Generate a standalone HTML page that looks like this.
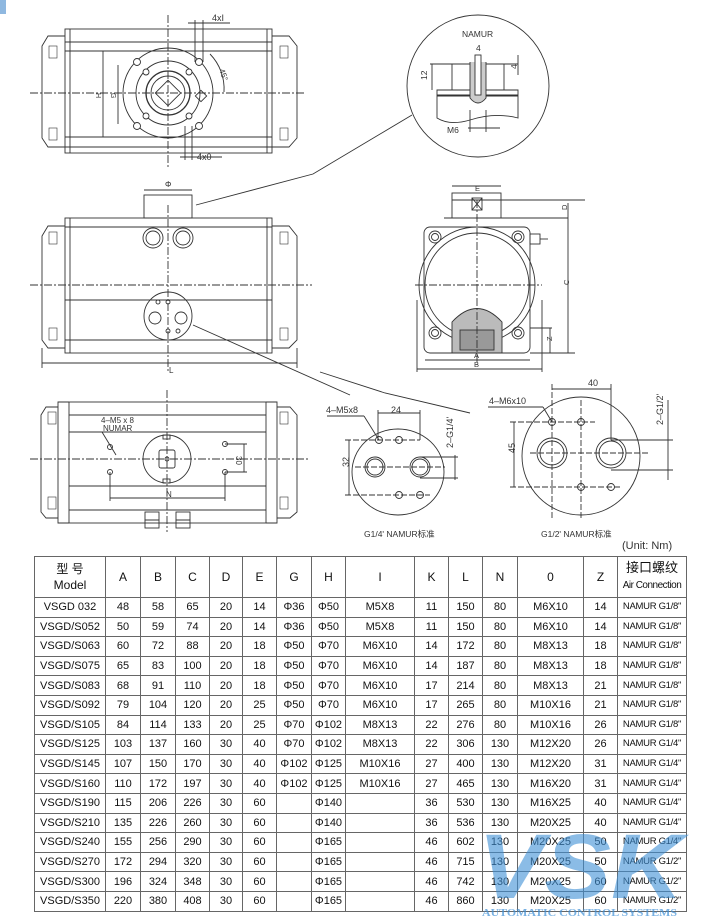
<!DOCTYPE html>
<html><head><meta charset="utf-8">
<style>
html,body{margin:0;padding:0;background:#fff;}
body{width:712px;height:920px;position:relative;overflow:hidden;font-family:"Liberation Sans","Noto Sans CJK SC",sans-serif;}
svg{position:absolute;left:0;top:0;}
table{position:absolute;left:34px;top:556px;width:652px;border-collapse:collapse;table-layout:fixed;font-size:11px;color:#111;}
td{border:1px solid #666;text-align:center;padding:0;height:18.6px;line-height:12px;white-space:nowrap;overflow:hidden;}
tr.h td{height:40px;font-size:12px;line-height:16px;}
td.n{font-size:9.5px;letter-spacing:-0.3px;}
</style></head><body>
<svg width="712" height="920" viewBox="0 0 712 920" fill="none" stroke="#333" stroke-width="0.9" font-family="Liberation Sans, Noto Sans CJK SC, sans-serif">
<rect x="0" y="0" width="6" height="14" fill="#8fb8e0" stroke="none"/>
<!-- TOP VIEW -->
<g>
<rect x="65" y="29" width="207" height="124"/>
<line x1="65" y1="42" x2="272" y2="42"/><line x1="65" y1="51" x2="272" y2="51"/>
<line x1="65" y1="137" x2="272" y2="137"/><line x1="65" y1="147" x2="272" y2="147"/>
<line x1="70" y1="29" x2="70" y2="153"/><line x1="267" y1="29" x2="267" y2="153"/>
<path d="M65 36 L48 36 L42 46 L42 138 L48 147 L65 147"/>
<path d="M272 36 L289 36 L297 46 L297 138 L289 147 L272 147"/>
<rect x="49" y="46" width="8" height="12" stroke-width="0.6"/><rect x="49" y="128" width="8" height="12" stroke-width="0.6"/>
<rect x="280" y="46" width="8" height="12" stroke-width="0.6"/><rect x="280" y="128" width="8" height="12" stroke-width="0.6"/>
<circle cx="168" cy="93" r="45"/><circle cx="168" cy="93" r="32"/><circle cx="168" cy="93" r="22" stroke-width="1.3"/><circle cx="168" cy="93" r="17"/>
<rect x="159" y="84" width="18" height="18" transform="rotate(45 168 93)"/>
<g fill="#fff"><circle cx="137" cy="62" r="3.5"/><circle cx="199" cy="62" r="3.5"/><circle cx="137" cy="126" r="3.5"/><circle cx="199" cy="126" r="3.5"/>
<circle cx="146" cy="72" r="3"/><circle cx="189" cy="72" r="3"/><circle cx="146" cy="116" r="3"/><circle cx="189" cy="116" r="3"/></g>
<line x1="168" y1="15" x2="168" y2="168" stroke-dasharray="8 2 2 2"/>
<line x1="30" y1="93" x2="305" y2="93" stroke-dasharray="8 2 2 2"/>
<line x1="103" y1="51" x2="103" y2="137"/><line x1="118" y1="65" x2="118" y2="124"/>
<line x1="195" y1="20" x2="195" y2="62"/><line x1="203" y1="20" x2="203" y2="62"/><line x1="188" y1="23" x2="230" y2="23"/>
<line x1="185" y1="126" x2="185" y2="160"/><line x1="192" y1="126" x2="192" y2="160"/><line x1="180" y1="157" x2="222" y2="157"/>
<path d="M210 54 A50 50 0 0 1 224 92"/>
<rect x="197" y="92" width="8" height="8" transform="rotate(45 201 96)"/>
</g>
<g fill="#333" stroke="none" font-size="9">
<text x="212" y="21">4xI</text><text x="197" y="160">4x0</text>
<text x="99" y="96" transform="rotate(90 99 93)" font-size="7">H</text>
<text x="114" y="96" transform="rotate(90 114 93)" font-size="7">G</text>
<text x="219" y="70" transform="rotate(70 219 70)" font-size="8">45°</text>
</g>
<!-- MIDDLE VIEW -->
<g>
<rect x="144" y="195" width="48" height="23"/>
<rect x="65" y="218" width="207" height="135"/>
<line x1="65" y1="227" x2="272" y2="227"/><line x1="65" y1="300" x2="272" y2="300"/><line x1="65" y1="340" x2="272" y2="340"/>
<line x1="70" y1="218" x2="70" y2="353"/><line x1="267" y1="218" x2="267" y2="353"/>
<path d="M65 226 L48 226 L42 236 L42 340 L48 348 L65 348"/>
<path d="M272 226 L289 226 L297 236 L297 340 L289 348 L272 348"/>
<rect x="49" y="232" width="8" height="12" stroke-width="0.6"/><rect x="49" y="328" width="8" height="12" stroke-width="0.6"/>
<rect x="280" y="232" width="8" height="12" stroke-width="0.6"/><rect x="280" y="328" width="8" height="12" stroke-width="0.6"/>
<circle cx="153" cy="238" r="10"/><circle cx="153" cy="238" r="7"/><circle cx="183" cy="238" r="10"/><circle cx="183" cy="238" r="7"/>
<circle cx="168" cy="316" r="24"/>
<circle cx="155" cy="318" r="6"/><circle cx="181" cy="318" r="6"/>
<circle cx="158" cy="302" r="2"/><circle cx="168" cy="302" r="2"/><circle cx="168" cy="331" r="2"/><circle cx="178" cy="331" r="2"/>
<line x1="168" y1="205" x2="168" y2="372" stroke-dasharray="8 2 2 2"/>
<line x1="30" y1="285" x2="312" y2="285" stroke-dasharray="8 2 2 2"/>
<line x1="42" y1="363" x2="297" y2="363"/><line x1="42" y1="348" x2="42" y2="368"/><line x1="297" y1="348" x2="297" y2="368"/>
<line x1="144" y1="190" x2="192" y2="190"/>
<path d="M196 205 L313 174 L412 115"/>
<path d="M193 325 L350 395"/>
<path d="M320 372 Q360 385 385 393 L470 413"/>
</g>
<g fill="#333" stroke="none" font-size="8"><text x="165" y="187">Φ</text><text x="169" y="373">L</text></g>
<!-- NAMUR DETAIL -->
<g>
<circle cx="478" cy="86" r="71"/>
<rect x="452" y="64" width="52" height="26"/>
<line x1="430" y1="64" x2="518" y2="64"/>
<path d="M437 90 L518 90 L518 95 L437 95 Z"/>
<path d="M437 96 L518 96 L518 118 Q495 112 470 120 Q450 126 437 118 Z"/>
<path d="M470 62 L470 98 Q478 108 486 98 L486 62" fill="#ccc"/>
<rect x="475" y="55" width="6" height="40" fill="#fff"/>
<line x1="468" y1="128" x2="500" y2="128"/><line x1="470" y1="110" x2="470" y2="132"/><line x1="486" y1="110" x2="486" y2="132"/>
<line x1="432" y1="64" x2="432" y2="90"/><line x1="518" y1="55" x2="518" y2="75"/>
</g>
<g fill="#333" stroke="none" font-size="8.5">
<text x="462" y="37">NAMUR</text><text x="476" y="51">4</text><text x="447" y="133">M6</text>
<text x="427" y="80" transform="rotate(-90 427 80)">12</text><text x="517" y="69" transform="rotate(-90 517 69)">4</text>
</g>
<!-- RIGHT VIEW -->
<g>
<rect x="452" y="193" width="49" height="25"/>
<rect x="424" y="227" width="106" height="126" rx="6"/>
<path d="M444 218 L510 218"/>
<circle cx="477" cy="285" r="58"/><circle cx="477" cy="285" r="52"/>
<g><circle cx="435" cy="237" r="6"/><circle cx="435" cy="237" r="3.5"/><circle cx="518" cy="237" r="6"/><circle cx="518" cy="237" r="3.5"/>
<circle cx="435" cy="333" r="6"/><circle cx="435" cy="333" r="3.5"/><circle cx="518" cy="333" r="6"/><circle cx="518" cy="333" r="3.5"/></g>
<path d="M452 353 L452 322 Q477 295 502 322 L502 353 Z" fill="#bbb"/>
<rect x="460" y="330" width="34" height="20" fill="#999"/>
<rect x="530" y="234" width="10" height="10"/><line x1="540" y1="239" x2="548" y2="239"/>
<line x1="477" y1="200" x2="477" y2="365" stroke-dasharray="8 2 2 2"/>
<line x1="415" y1="285" x2="542" y2="285" stroke-dasharray="8 2 2 2"/>
<line x1="452" y1="200" x2="585" y2="200"/><line x1="501" y1="218" x2="568" y2="218"/>
<line x1="568" y1="203" x2="568" y2="353"/><line x1="530" y1="353" x2="575" y2="353"/>
<line x1="550" y1="328" x2="550" y2="353"/><line x1="530" y1="328" x2="552" y2="328"/>
<line x1="425" y1="360" x2="530" y2="360"/><line x1="417" y1="369" x2="542" y2="369"/>
<line x1="417" y1="300" x2="417" y2="372"/><line x1="542" y1="300" x2="542" y2="372"/>
<line x1="452" y1="186" x2="501" y2="186"/><rect x="472" y="198" width="10" height="12"/><path d="M472 198 L482 210 M482 198 L472 210"/>
</g>
<g fill="#333" stroke="none" font-size="7.5">
<text x="475" y="191">E</text><text x="474" y="358">A</text><text x="474" y="367">B</text>
<text x="566" y="288" transform="rotate(-90 566 285)">C</text><text x="564" y="213" transform="rotate(-90 564 210)">D</text>
<text x="549" y="344" transform="rotate(-90 549 341)">Z</text>
</g>
<!-- BOTTOM VIEW -->
<g>
<rect x="69" y="402" width="197" height="121"/>
<line x1="69" y1="415" x2="266" y2="415"/><line x1="69" y1="432" x2="266" y2="432"/>
<line x1="69" y1="486" x2="266" y2="486"/><line x1="69" y1="510" x2="266" y2="510"/>
<path d="M69 402 L58 402 L58 523 L69 523"/><path d="M266 402 L277 402 L277 523 L266 523"/>
<path d="M58 407 L46 407 L41 415 L41 512 L46 518 L58 518"/>
<path d="M277 407 L290 407 L297 415 L297 512 L290 518 L277 518"/>
<rect x="48" y="412" width="8" height="12" stroke-width="0.6"/><rect x="48" y="497" width="8" height="12" stroke-width="0.6"/>
<rect x="280" y="412" width="8" height="12" stroke-width="0.6"/><rect x="280" y="497" width="8" height="12" stroke-width="0.6"/>
<circle cx="167" cy="459" r="24"/><rect x="159" y="450" width="16" height="18" rx="2"/><circle cx="167" cy="459" r="2"/>
<rect x="163" y="435" width="7" height="4"/><rect x="163" y="479" width="7" height="4"/>
<circle cx="110" cy="447" r="2.5"/><circle cx="110" cy="472" r="2.5"/><circle cx="225" cy="444" r="2.5"/><circle cx="225" cy="472" r="2.5"/>
<line x1="30" y1="459" x2="310" y2="459" stroke-dasharray="8 2 2 2"/>
<line x1="167" y1="390" x2="167" y2="532" stroke-dasharray="8 2 2 2"/>
<line x1="110" y1="498" x2="225" y2="498"/><line x1="110" y1="472" x2="110" y2="501"/><line x1="225" y1="472" x2="225" y2="501"/>
<line x1="244" y1="444" x2="244" y2="472"/><line x1="225" y1="444" x2="247" y2="444"/><line x1="225" y1="472" x2="247" y2="472"/>
<line x1="102" y1="432" x2="116" y2="455"/>
<rect x="145" y="512" width="14" height="8"/><rect x="145" y="520" width="14" height="8"/>
<rect x="176" y="512" width="14" height="8"/><rect x="176" y="520" width="14" height="8"/>
</g>
<g fill="#333" stroke="none" font-size="8">
<text x="101" y="423">4–M5 x 8</text><text x="103" y="431">NUMAR</text><text x="166" y="497">N</text>
<text x="238" y="462" transform="rotate(90 240 458)">30</text>
</g>
<!-- PLATES -->
<g>
<ellipse cx="398" cy="472" rx="46" ry="43"/>
<circle cx="379" cy="440" r="3.5"/><circle cx="399" cy="440" r="3.5"/><circle cx="399" cy="495" r="3.5"/><circle cx="420" cy="495" r="3.5"/>
<circle cx="375" cy="467" r="10"/><circle cx="375" cy="467" r="8"/><circle cx="420" cy="467" r="10"/><circle cx="420" cy="467" r="8"/>
<line x1="345" y1="440" x2="420" y2="440" stroke-dasharray="6 2"/><line x1="345" y1="495" x2="430" y2="495" stroke-dasharray="6 2"/>
<line x1="355" y1="467" x2="445" y2="467" stroke-dasharray="6 2"/>
<line x1="349" y1="440" x2="349" y2="495"/>
<line x1="378" y1="413" x2="420" y2="413"/><line x1="378" y1="410" x2="378" y2="440"/><line x1="420" y1="410" x2="420" y2="440"/>
<line x1="455" y1="455" x2="455" y2="480"/><line x1="420" y1="457" x2="458" y2="457"/><line x1="420" y1="478" x2="458" y2="478"/>
<line x1="327" y1="416" x2="364" y2="416"/><line x1="364" y1="416" x2="379" y2="440"/>
<ellipse cx="581" cy="456" rx="59" ry="59"/>
<circle cx="552" cy="422" r="3.5"/><circle cx="581" cy="422" r="3.5"/><circle cx="581" cy="487" r="3.5"/><circle cx="611" cy="487" r="3.5"/>
<circle cx="552" cy="453" r="15"/><circle cx="552" cy="453" r="12"/><circle cx="611" cy="453" r="15"/><circle cx="611" cy="453" r="12"/>
<line x1="510" y1="422" x2="595" y2="422" stroke-dasharray="6 2"/><line x1="510" y1="487" x2="620" y2="487" stroke-dasharray="6 2"/>
<line x1="530" y1="453" x2="650" y2="453" stroke-dasharray="6 2"/>
<line x1="552" y1="384" x2="552" y2="520" stroke-dasharray="6 2"/><line x1="581" y1="400" x2="581" y2="520" stroke-dasharray="6 2"/>
<line x1="611" y1="384" x2="611" y2="440"/>
<line x1="552" y1="389" x2="611" y2="389"/>
<line x1="514" y1="422" x2="514" y2="487"/>
<line x1="668" y1="400" x2="668" y2="480"/><line x1="611" y1="440" x2="673" y2="440"/><line x1="611" y1="470" x2="673" y2="470"/>
<line x1="488" y1="407" x2="543" y2="407"/><line x1="543" y1="407" x2="552" y2="422"/>
</g>
<g fill="#333" stroke="none" font-size="9">
<text x="326" y="413">4–M5x8</text><text x="391" y="413">24</text>
<text x="453" y="448" transform="rotate(-90 453 448)">2–G1/4'</text>
<text x="344" y="472" transform="rotate(-90 344 467)">32</text>
<text x="364" y="537" font-size="8.5">G1/4' NAMUR标准</text>
<text x="489" y="404">4–M6x10</text><text x="588" y="386">40</text>
<text x="663" y="425" transform="rotate(-90 663 425)">2–G1/2'</text>
<text x="510" y="458" transform="rotate(-90 510 453)">45</text>
<text x="541" y="537" font-size="8.5">G1/2' NAMUR标准</text>
<text x="622" y="549" font-size="11">(Unit: Nm)</text>
</g>
</svg>
<table>
<colgroup><col style="width:71px"><col style="width:35px"><col style="width:35px"><col style="width:34px"><col style="width:33px"><col style="width:34px"><col style="width:35px"><col style="width:34px"><col style="width:69px"><col style="width:34px"><col style="width:34px"><col style="width:35px"><col style="width:66px"><col style="width:34px"><col style="width:69px"></colgroup>
<tr class="h"><td>型 号<br>Model</td><td>A</td><td>B</td><td>C</td><td>D</td><td>E</td><td>G</td><td>H</td><td>I</td><td>K</td><td>L</td><td>N</td><td>0</td><td>Z</td><td style="font-size:13px">接口螺纹<br><span style="font-size:10px;letter-spacing:-0.5px">Air Connection</span></td></tr>
<tr><td>VSGD 032</td><td>48</td><td>58</td><td>65</td><td>20</td><td>14</td><td>Φ36</td><td>Φ50</td><td>M5X8</td><td>11</td><td>150</td><td>80</td><td>M6X10</td><td>14</td><td class="n">NAMUR G1/8"</td></tr>
<tr><td>VSGD/S052</td><td>50</td><td>59</td><td>74</td><td>20</td><td>14</td><td>Φ36</td><td>Φ50</td><td>M5X8</td><td>11</td><td>150</td><td>80</td><td>M6X10</td><td>14</td><td class="n">NAMUR G1/8"</td></tr>
<tr><td>VSGD/S063</td><td>60</td><td>72</td><td>88</td><td>20</td><td>18</td><td>Φ50</td><td>Φ70</td><td>M6X10</td><td>14</td><td>172</td><td>80</td><td>M8X13</td><td>18</td><td class="n">NAMUR G1/8"</td></tr>
<tr><td>VSGD/S075</td><td>65</td><td>83</td><td>100</td><td>20</td><td>18</td><td>Φ50</td><td>Φ70</td><td>M6X10</td><td>14</td><td>187</td><td>80</td><td>M8X13</td><td>18</td><td class="n">NAMUR G1/8"</td></tr>
<tr><td>VSGD/S083</td><td>68</td><td>91</td><td>110</td><td>20</td><td>18</td><td>Φ50</td><td>Φ70</td><td>M6X10</td><td>17</td><td>214</td><td>80</td><td>M8X13</td><td>21</td><td class="n">NAMUR G1/8"</td></tr>
<tr><td>VSGD/S092</td><td>79</td><td>104</td><td>120</td><td>20</td><td>25</td><td>Φ50</td><td>Φ70</td><td>M6X10</td><td>17</td><td>265</td><td>80</td><td>M10X16</td><td>21</td><td class="n">NAMUR G1/8"</td></tr>
<tr><td>VSGD/S105</td><td>84</td><td>114</td><td>133</td><td>20</td><td>25</td><td>Φ70</td><td>Φ102</td><td>M8X13</td><td>22</td><td>276</td><td>80</td><td>M10X16</td><td>26</td><td class="n">NAMUR G1/8"</td></tr>
<tr><td>VSGD/S125</td><td>103</td><td>137</td><td>160</td><td>30</td><td>40</td><td>Φ70</td><td>Φ102</td><td>M8X13</td><td>22</td><td>306</td><td>130</td><td>M12X20</td><td>26</td><td class="n">NAMUR G1/4"</td></tr>
<tr><td>VSGD/S145</td><td>107</td><td>150</td><td>170</td><td>30</td><td>40</td><td>Φ102</td><td>Φ125</td><td>M10X16</td><td>27</td><td>400</td><td>130</td><td>M12X20</td><td>31</td><td class="n">NAMUR G1/4"</td></tr>
<tr><td>VSGD/S160</td><td>110</td><td>172</td><td>197</td><td>30</td><td>40</td><td>Φ102</td><td>Φ125</td><td>M10X16</td><td>27</td><td>465</td><td>130</td><td>M16X20</td><td>31</td><td class="n">NAMUR G1/4"</td></tr>
<tr><td>VSGD/S190</td><td>115</td><td>206</td><td>226</td><td>30</td><td>60</td><td></td><td>Φ140</td><td></td><td>36</td><td>530</td><td>130</td><td>M16X25</td><td>40</td><td class="n">NAMUR G1/4"</td></tr>
<tr><td>VSGD/S210</td><td>135</td><td>226</td><td>260</td><td>30</td><td>60</td><td></td><td>Φ140</td><td></td><td>36</td><td>536</td><td>130</td><td>M20X25</td><td>40</td><td class="n">NAMUR G1/4"</td></tr>
<tr><td>VSGD/S240</td><td>155</td><td>256</td><td>290</td><td>30</td><td>60</td><td></td><td>Φ165</td><td></td><td>46</td><td>602</td><td>130</td><td>M20X25</td><td>50</td><td class="n">NAMUR G1/4"</td></tr>
<tr><td>VSGD/S270</td><td>172</td><td>294</td><td>320</td><td>30</td><td>60</td><td></td><td>Φ165</td><td></td><td>46</td><td>715</td><td>130</td><td>M20X25</td><td>50</td><td class="n">NAMUR G1/2"</td></tr>
<tr><td>VSGD/S300</td><td>196</td><td>324</td><td>348</td><td>30</td><td>60</td><td></td><td>Φ165</td><td></td><td>46</td><td>742</td><td>130</td><td>M20X25</td><td>60</td><td class="n">NAMUR G1/2"</td></tr>
<tr><td>VSGD/S350</td><td>220</td><td>380</td><td>408</td><td>30</td><td>60</td><td></td><td>Φ165</td><td></td><td>46</td><td>860</td><td>130</td><td>M20X25</td><td>60</td><td class="n">NAMUR G1/2"</td></tr>
</table>
<svg width="712" height="920" style="pointer-events:none">
<text x="478" y="898" font-family="Liberation Sans, sans-serif" font-size="92" font-weight="bold" font-style="italic" fill="#3d8fd6" fill-opacity="0.6" textLength="205" lengthAdjust="spacingAndGlyphs">VSK</text>
<text x="482" y="916" font-family="Liberation Serif, serif" font-size="10" font-weight="bold" fill="#3d8fd6" fill-opacity="0.7" textLength="195" lengthAdjust="spacingAndGlyphs">AUTOMATIC CONTROL SYSTEMS</text>
</svg>
</body></html>
